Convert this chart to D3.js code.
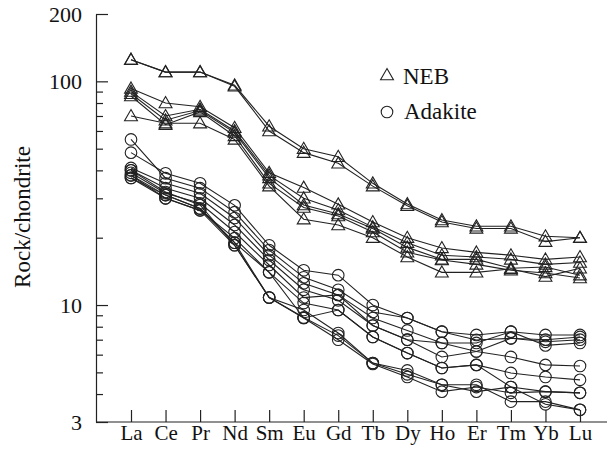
<!DOCTYPE html>
<html>
<head>
<meta charset="utf-8">
<script src="https://cdn.jsdelivr.net/npm/d3@7"></script>
<style>
body { margin: 0; background: #fff; }
.canvas { width: 611px; height: 455px; }
.axis path, .axis line { stroke: #222; stroke-width: 1.2; }
.series { fill: none; stroke: #222; stroke-width: 1.1; }
.mark { fill: none; stroke: #222; stroke-width: 1.1; }
</style>
</head>
<body>
<div class="canvas"></div>
<script>
// REE chondrite-normalised patterns
var elements = ['La','Ce','Pr','Nd','Sm','Eu','Gd','Tb','Dy','Ho','Er','Tm','Yb','Lu'];

var majorTicks = [3, 10, 100, 200];
var minorTicks = [4, 5, 6, 7, 8, 9, 20, 30, 40, 50, 60, 70, 80, 90];

// NEB samples (triangles)
var neb1 = [125, 110, 110, 96, 63, 50, 46, 35, 28.3, 24, 22.5, 22.5, 20.3, 20];
var neb2 = [125, 110, 110, 95, 60, 48, 43, 34, 27.8, 23.5, 22, 22, 19.2, 20];
var neb3 = [93, 80, 77, 62, 39, 33.5, 28.2, 23.5, 20, 18, 17.2, 16.7, 16, 16.4];
var neb4 = [90, 70, 75, 60, 38, 30, 26.6, 22.3, 19, 16.7, 16.4, 16, 15.2, 15.5];
var neb5 = [88, 67, 74, 59, 37, 28, 25.5, 22, 18.1, 16, 16, 14.6, 14.8, 13.6];
var neb6 = [86, 64, 73, 57, 35, 27.3, 25, 21.2, 17.2, 15.9, 15.2, 14.3, 13.9, 13.2];
var neb7 = [70, 65, 65, 55, 34, 24.2, 22.8, 20, 16.4, 14, 14, 14.5, 13.4, 14.6];

// Adakite samples (circles)
var ada1 = [48, 38.8, 35, 27.9, 18.5, 14.3, 13.6, 10, 8.75, 7.6, 7.35, 7.6, 7.35, 7.35];
var ada2 = [55, 36.9, 33.3, 26, 17.6, 13.3, 11.7, 9.3, 8.75, 7.6, 6.98, 7.1, 6.85, 7.0];
var ada3 = [41, 35, 31.6, 24.5, 16.7, 12.5, 11.1, 8.75, 7.7, 6.77, 6.77, 7.6, 6.6, 6.77];
var ada4 = [40, 33.3, 30, 22.8, 15.9, 11.7, 10.5, 8.1, 7.0, 5.86, 6.2, 7.1, 7.0, 7.2];
var ada5 = [39, 31.6, 28.5, 21.2, 15.1, 10.8, 11.1, 8.1, 7.0, 6.77, 6.2, 5.86, 5.4, 5.34];
var ada6 = [38, 30, 26.5, 19.9, 14, 10.2, 9.5, 7.2, 6.1, 5.23, 5.4, 4.97, 4.77, 4.63];
var ada7 = [37, 31, 27, 19, 14, 8.75, 9.5, 7.2, 6.1, 5.23, 5.4, 4.3, 4.1, 4.05];
var ada8 = [40, 32, 28, 18.5, 10.8, 9.5, 7.5, 5.5, 5.1, 4.4, 4.4, 3.7, 3.7, 3.4];
var ada9 = [38, 31, 27, 19, 10.8, 8.75, 7.0, 5.45, 4.77, 4.1, 4.3, 4.05, 4.1, 4.05];
var ada10 = [37, 30, 26.5, 18.5, 10.8, 8.8, 7.3, 5.5, 4.9, 4.4, 4.1, 4.3, 3.6, 3.4];

var nebSeries = [neb1, neb2, neb3, neb4, neb5, neb6, neb7];
var adaSeries = [ada1, ada2, ada3, ada4, ada5, ada6, ada7, ada8, ada9, ada10];

var FONT = 'Liberation Serif';
var width = 611, height = 455;

var svg = d3.select('.canvas').append('svg')
	.attr('width', width).attr('height', height)
	.attr('font-family', FONT);

var x = d3.scalePoint()
	.domain(elements)
	.range([131, 580]);

var y = d3.scaleLog()
	.domain([3, 200])
	.range([422, 14]);

// axes
var gy = svg.append('g').classed('axis', true)
	.attr('transform', 'translate(96,0)')
	.call(d3.axisLeft(y).tickValues(majorTicks).tickSize(-12).tickSizeOuter(0)
		.tickPadding(14).tickFormat(d3.format('d')))
	.attr('font-family', FONT).attr('font-size', 22);
gy.selectAll('text').attr('font-family', FONT).attr('font-size', 22).attr('fill', '#111');

svg.append('g').classed('axis', true)
	.attr('transform', 'translate(96,0)')
	.call(d3.axisLeft(y).tickValues(minorTicks).tickSize(-7).tickSizeOuter(0).tickFormat(''))
	.select('.domain').remove();

var gx = svg.append('g').classed('axis', true)
	.attr('transform', 'translate(0,422)')
	.call(d3.axisBottom(x).tickSize(-12).tickSizeOuter(0).tickPadding(-4))
	.attr('font-family', FONT).attr('font-size', 21);
gx.select('.domain').attr('d', 'M96,0H607');
gx.selectAll('text').attr('font-family', FONT).attr('font-size', 21)
	.attr('dy', '1.05em').attr('fill', '#111');

svg.append('text')
	.attr('transform', 'translate(30,217) rotate(-90)')
	.attr('text-anchor', 'middle')
	.attr('font-family', FONT).attr('font-size', 23)
	.attr('fill', '#111')
	.text('Rock/chondrite');

var line = d3.line()
	.x(function(d, i) { return x(elements[i]); })
	.y(function(d) { return y(d); });

var triangle = d3.symbol().type(d3.symbolTriangle).size(72);

// NEB lines + triangles
nebSeries.forEach(function(s) {
	svg.append('path').classed('series', true).attr('d', line(s));
	svg.selectAll(null)
		.data(s)
		.enter()
		.append('path')
		.classed('mark', true)
		.attr('d', triangle)
		.attr('transform', function(d, i) { return 'translate(' + x(elements[i]) + ',' + (y(d) + 1) + ')'; });
});

// Adakite lines + circles
adaSeries.forEach(function(s) {
	svg.append('path').classed('series', true).attr('d', line(s));
	svg.selectAll(null)
		.data(s)
		.enter()
		.append('circle')
		.classed('mark', true)
		.attr('cx', function(d, i) { return x(elements[i]); })
		.attr('cy', function(d) { return y(d); })
		.attr('r', 5.8);
});

// legend
var legend = svg.append('g').attr('transform', 'translate(387,0)');
legend.append('path').classed('mark', true)
	.attr('d', triangle)
	.attr('transform', 'translate(0,76)');
legend.append('text').attr('x', 16).attr('y', 84)
	.attr('font-family', FONT).attr('font-size', 23).attr('fill', '#111').text('NEB');
legend.append('circle').classed('mark', true)
	.attr('cx', 0).attr('cy', 112).attr('r', 5.8);
legend.append('text').attr('x', 17).attr('y', 119)
	.attr('font-family', FONT).attr('font-size', 23).attr('fill', '#111').text('Adakite');
</script>
</body>
</html>
